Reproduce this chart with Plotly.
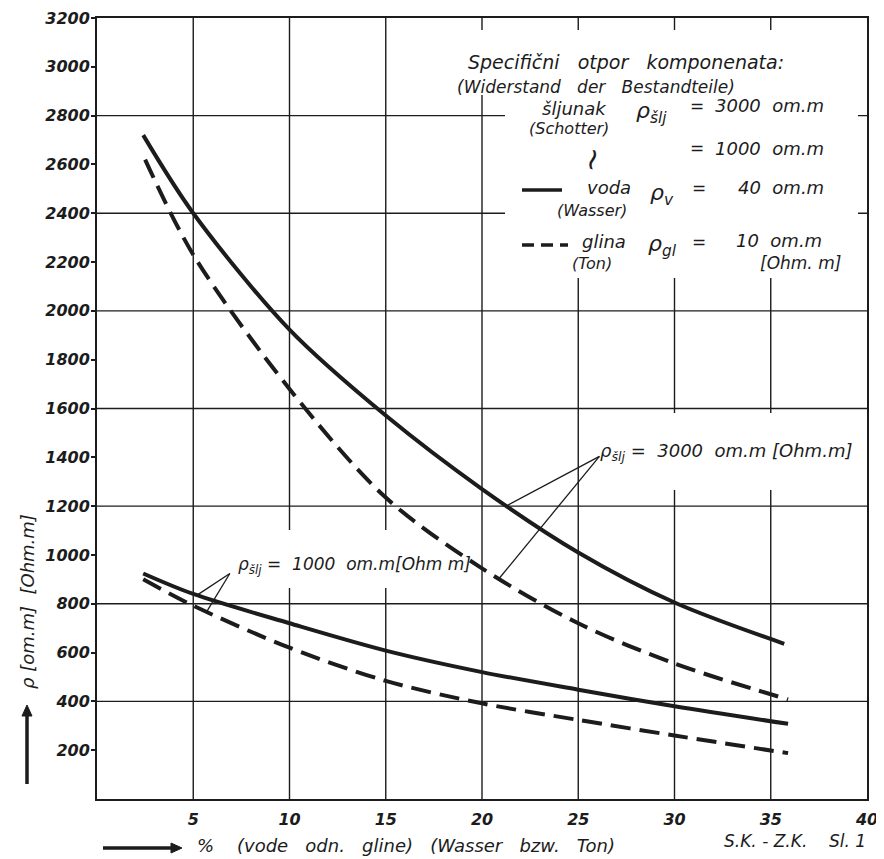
import numpy as np
import plotly.graph_objects as go

# ---------------- data ----------------
X_WATER_3000 = [2.4, 5, 10, 15, 20, 25, 30, 35.7]
Y_WATER_3000 = [2720, 2400, 1923, 1571, 1270, 1010, 805, 636]

X_CLAY_3000 = [2.5, 5, 10, 15, 20, 25, 30, 35.9]
Y_CLAY_3000 = [2620, 2230, 1680, 1235, 945, 720, 555, 408]

X_WATER_1000 = [2.4, 5, 10, 15, 20, 25, 30, 35.9]
Y_WATER_1000 = [924, 840, 720, 608, 520, 448, 380, 308]

X_CLAY_1000 = [2.4, 5, 10, 15, 20, 25, 30, 35.9]
Y_CLAY_1000 = [900, 792, 620, 484, 392, 324, 260, 188]

X_TICKS = [5, 10, 15, 20, 25, 30, 35, 40]
Y_TICKS = list(range(200, 3201, 200))
GRID_X = [5, 10, 15, 20, 25, 30, 35]
GRID_Y = [400, 800, 1200, 1600, 2000, 2400, 2800]

# ---------------- layout geometry ----------------
# the page body has an 8px margin, so the figure is placed 8px in from the top-left
OFF = 8
PX0, PX1, PY0, PY1 = 97, 867, 18, 799      # wanted plot area on the page
W, H = 872, 851
L, T = PX0 - OFF, PY0 - OFF
R = W - (PX1 - OFF)
B = H - (PY1 - OFF)
PW, PH = PX1 - PX0, PY1 - PY0
INK = "#1c1c1c"
FAM = "DejaVu Sans"


def P(px, py):
    """page pixel position -> paper coordinates"""
    return (px - PX0) / PW, (PY1 - py) / PH


fig = go.Figure()

line_solid = dict(color=INK, width=4, shape="spline", smoothing=0.9)
line_dash = dict(color=INK, width=4, shape="spline", smoothing=0.9, dash="20px,9px")

fig.add_trace(go.Scatter(x=X_WATER_3000, y=Y_WATER_3000, mode="lines", line=line_solid,
                         name="voda, ρšlj = 3000"))
fig.add_trace(go.Scatter(x=X_CLAY_3000, y=Y_CLAY_3000, mode="lines", line=line_dash,
                         name="glina, ρšlj = 3000"))
fig.add_trace(go.Scatter(x=X_WATER_1000, y=Y_WATER_1000, mode="lines", line=line_solid,
                         name="voda, ρšlj = 1000"))
fig.add_trace(go.Scatter(x=X_CLAY_1000, y=Y_CLAY_1000, mode="lines", line=line_dash,
                         name="glina, ρšlj = 1000"))

shapes = []
for gx in GRID_X:
    shapes.append(dict(type="line", xref="x", yref="paper", x0=gx, x1=gx, y0=0, y1=1,
                       line=dict(color=INK, width=1.4), layer="below"))
for gy in GRID_Y:
    shapes.append(dict(type="line", xref="paper", yref="y", x0=0, x1=1, y0=gy, y1=gy,
                       line=dict(color=INK, width=1.4), layer="below"))


def mask(px0, py0, px1, py1):
    x0, y0 = P(px0, py0)
    x1, y1 = P(px1, py1)
    shapes.append(dict(type="rect", xref="paper", yref="paper", x0=x0, x1=x1, y0=y1, y1=y0,
                       fillcolor="white", line=dict(width=0), layer="below"))


mask(505, 30, 858, 278)
mask(455, 30, 505, 95)
mask(598, 413, 862, 490)
mask(210, 530, 480, 588)

# legend sample lines
for (px0, px1, py, dash) in [(522, 562, 190, "solid"), (522, 568, 245, "12px,7px")]:
    x0, y0 = P(px0, py)
    x1, _ = P(px1, py)
    shapes.append(dict(type="line", xref="paper", yref="paper", x0=x0, x1=x1, y0=y0, y1=y0,
                       line=dict(color=INK, width=3.5, dash=dash), layer="above"))


def arrow(tail, tip, head=11, half=5):
    """thick arrow drawn in paper space, from page-pixel tail to tip"""
    (tx, ty), (hx, hy) = tail, tip
    d = np.hypot(hx - tx, hy - ty)
    ux, uy = (hx - tx) / d, (hy - ty) / d
    bx, by = hx - ux * head, hy - uy * head
    a = P(tx, ty)
    b = P(bx, by)
    shapes.append(dict(type="line", xref="paper", yref="paper", x0=a[0], y0=a[1], x1=b[0], y1=b[1],
                       line=dict(color=INK, width=3.5), layer="above"))
    p1 = P(bx - uy * half, by + ux * half)
    p2 = P(bx + uy * half, by - ux * half)
    p3 = P(hx, hy)
    path = f"M {p1[0]} {p1[1]} L {p3[0]} {p3[1]} L {p2[0]} {p2[1]} Z"
    shapes.append(dict(type="path", xref="paper", yref="paper", path=path,
                       fillcolor=INK, line=dict(color=INK, width=1), layer="above"))


arrow((103, 848), (182, 848))
arrow((27, 784), (27, 705))

# leader lines from curve labels to curves (targets taken from the curve data)
leaders = [
    ((26.1, 1404), (21.3, X_WATER_3000, Y_WATER_3000)),
    ((26.1, 1404), (20.9, X_CLAY_3000, Y_CLAY_3000)),
    ((6.9, 924), (5.2, X_WATER_1000, Y_WATER_1000)),
    ((6.9, 924), (5.7, X_CLAY_1000, Y_CLAY_1000)),
]
for (apx, apy), (tx, xs, ys) in leaders:
    ty = float(np.interp(tx, xs, ys))
    shapes.append(dict(type="line", xref="x", yref="y", x0=apx, y0=apy, x1=tx, y1=ty,
                       line=dict(color=INK, width=1.3), layer="above"))

ann = []


def text(px, py, s, size=17, anchor="left", angle=0, weight="normal"):
    x, y = P(px, py)
    ann.append(dict(x=x, y=y, xref="paper", yref="paper", text=s, showarrow=False,
                    xanchor=anchor, yanchor="middle", textangle=angle,
                    font=dict(family=FAM, size=size, color=INK, style="italic", weight=weight)))


# legend block (top right)
text(466, 62, "Specifični   otpor   komponenata:", size=19)
text(455, 87, "(Widerstand   der   Bestandteile)", size=17)
text(540, 108, "šljunak", size=18)
text(527, 129, "(Schotter)", size=16)
text(634, 112, "ρ<sub>šlj</sub>", size=22)
text(688, 106, "=")
text(826, 106, "3000  om.m", anchor="right", size=18)
text(688, 148, "=")
text(826, 148, "1000  om.m", anchor="right", size=18)
text(592, 160, "~", size=30, anchor="center", angle=-75)
text(585, 188, "voda", size=18)
text(555, 210, "(Wasser)", size=16)
text(648, 194, "ρ<sub>v</sub>", size=22)
text(690, 188, "=")
text(826, 188, "40  om.m", anchor="right", size=18)
text(580, 242, "glina", size=18)
text(570, 263, "(Ton)", size=16)
text(646, 246, "ρ<sub>gl</sub>", size=22)
text(690, 242, "=")
text(824, 240, "10  om.m", anchor="right", size=18)
text(758, 263, "[Ohm. m]")

# curve labels
text(598, 452, "ρ<sub>šlj</sub> =  3000  om.m [Ohm.m]", size=18)
text(236, 565, "ρ<sub>šlj</sub> =  1000  om.m[Ohm m]")

# axis titles and notes
text(27, 602, "ρ [om.m]  [Ohm.m]", size=18, anchor="center", angle=-90)
text(195, 846, "%    (vode   odn.   gline)   (Wasser   bzw.   Ton)", size=18)
text(868, 841, "S.K. - Z.K.    Sl. 1", anchor="right")

tickfont = dict(family=FAM, size=16, color=INK, style="italic", weight="bold")

fig.update_layout(
    width=W, height=H,
    margin=dict(l=L, r=R, t=T, b=B, autoexpand=False),
    paper_bgcolor="white", plot_bgcolor="white",
    showlegend=False,
    shapes=shapes, annotations=ann,
    xaxis=dict(range=[0, 40], tickvals=X_TICKS, ticktext=[str(v) for v in X_TICKS],
               showgrid=False, zeroline=False, showline=True, mirror=True, automargin=False,
               linecolor=INK, linewidth=2, ticks="outside", ticklen=5,
               tickcolor="rgba(0,0,0,0)", tickfont=tickfont, ticklabeloverflow="allow"),
    yaxis=dict(range=[0, 3200], tickvals=Y_TICKS, ticktext=[str(v) for v in Y_TICKS],
               showgrid=False, zeroline=False, showline=True, mirror=True, automargin=False,
               linecolor=INK, linewidth=2, ticks="outside", ticklen=4, tickwidth=1.5,
               tickcolor=INK, tickfont=tickfont, ticklabeloverflow="allow",
               ticklabelstandoff=-2),
)

fig.write_html("out.html")
